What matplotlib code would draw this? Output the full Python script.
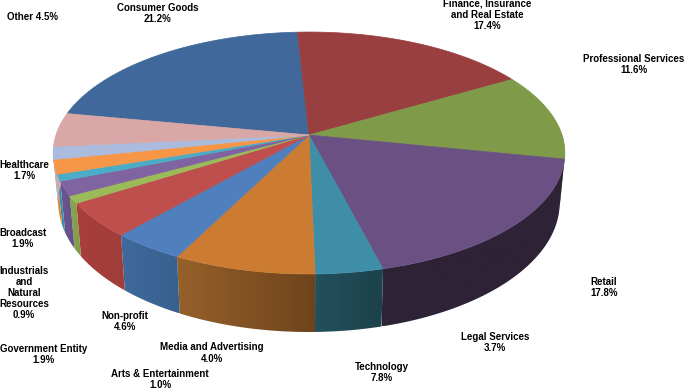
import numpy as np
import matplotlib
matplotlib.use('Agg')
import matplotlib.pyplot as plt
from matplotlib.patches import Polygon

# data, clockwise from Consumer Goods -----------------------------------------
names = ['Consumer Goods', 'Finance, Insurance\nand Real Estate', 'Professional Services',
         'Retail', 'Legal Services', 'Technology', 'Media and Advertising', 'Non-profit',
         'Arts & Entertainment', 'Government Entity', 'Industrials\nand\nNatural\nResources',
         'Broadcast', 'Healthcare', 'Other']
values = [21.2, 17.4, 11.6, 17.8, 3.7, 7.8, 4.0, 4.6, 1.0, 1.9, 0.9, 1.9, 1.7, 4.5]

top_colors = ['#40689A', '#9A3F3F', '#7F9A48', '#6A5083', '#3D8EA6', '#CC7B32', '#4F7FBC',
              '#BE4F4C', '#9BBB59', '#8064A2', '#4BACC6', '#F79646', '#AABBDD', '#D9A7A6']
# side wall colours at the left and right end of each slice
side_left = ['#40689A', '#9A3F3F', '#7F9A48', '#2E2236', '#22505D', '#96602A', '#3F6A9E',
             '#A83F3C', '#8AA64E', '#6C558F', '#3F94AB', '#D98238', '#AABBDD', '#D9A7A6']
side_right = ['#40689A', '#9A3F3F', '#7F9A48', '#2E2236', '#1C424B', '#6E431C', '#38608F',
              '#A03D3A', '#7F9A48', '#66508A', '#3A8CA3', '#D98238', '#AABBDD', '#D9A7A6']

# where the labels sit, in pixels
label_x = [158, 487, 634, 604, 495, 382, 212, 125, 160, 44, 24, 23, 24, 33]
label_y = [13.5, 15, 64.5, 287.5, 342.5, 372.5, 353, 321.5, 379.5, 354.5, 293, 238.5, 170.5, 17]

# projection of the pie: perspective circle -----------------------------------
start_deg = -79.3
cx, cy = 309, 135


def rim(theta):
    u, v = np.sin(np.radians(theta)), -np.cos(np.radians(theta))
    w = 1 - 0.1488 * v
    return cx + 253 * u / w, (98.2 * v + cy) / w


def rim_low(theta):
    x, y = rim(theta)
    return cx + 0.98 * (x - cx), cy + 1.07 * (y - cy) + 48.3


fig = plt.figure(figsize=(6.85, 3.9), dpi=100)
ax = fig.add_axes([0, 0, 1, 1])
ax.axis('off')

edges = start_deg + np.concatenate([[0], np.cumsum(values)]) * 3.6

# side wall first, one gradient image per slice clipped to the wall shape
for i in range(len(values)):
    a, b = max(edges[i], 85), min(edges[i + 1], 278)
    if b <= a:
        continue
    th = np.linspace(a, b, 60)
    xt, yt = rim(th)
    xb, yb = rim_low(th)
    pts = list(zip(xt, yt)) + list(zip(xb[::-1], yb[::-1]))
    left = min(xt.min(), xb.min())
    right = max(xt.max(), xb.max())
    c0 = np.array(matplotlib.colors.to_rgb(side_left[i]))
    c1 = np.array(matplotlib.colors.to_rgb(side_right[i]))
    ramp = np.linspace(0, 1, 64)[None, :, None]
    im = ax.imshow(c0 + (c1 - c0) * ramp, extent=[left, right, yb.max(), yt.min()],
                   aspect='auto', interpolation='bilinear', zorder=2)
    clip = Polygon(pts, closed=True, transform=ax.transData, facecolor='none', edgecolor='none')
    ax.add_patch(clip)
    im.set_clip_path(clip)

# top of the pie
for i in range(len(values)):
    th = np.linspace(edges[i], edges[i + 1], 60)
    x, y = rim(th)
    pts = [(cx, cy)] + list(zip(x, y))
    ax.add_patch(Polygon(pts, closed=True, facecolor=top_colors[i], edgecolor=top_colors[i],
                         lw=0.5, zorder=3))

# labels
for i in range(len(values)):
    if names[i] == 'Other':
        txt = 'Other %.1f%%' % values[i]
    else:
        txt = '%s\n%.1f%%' % (names[i], values[i])
    ax.text(label_x[i], label_y[i], txt, ha='center', va='center', fontsize=7, fontweight='bold',
            family='Liberation Sans', color='black', linespacing=1.15, zorder=5)

ax.set_xlim(0, 685)
ax.set_ylim(390, 0)
fig.savefig('out.png', dpi=100)
